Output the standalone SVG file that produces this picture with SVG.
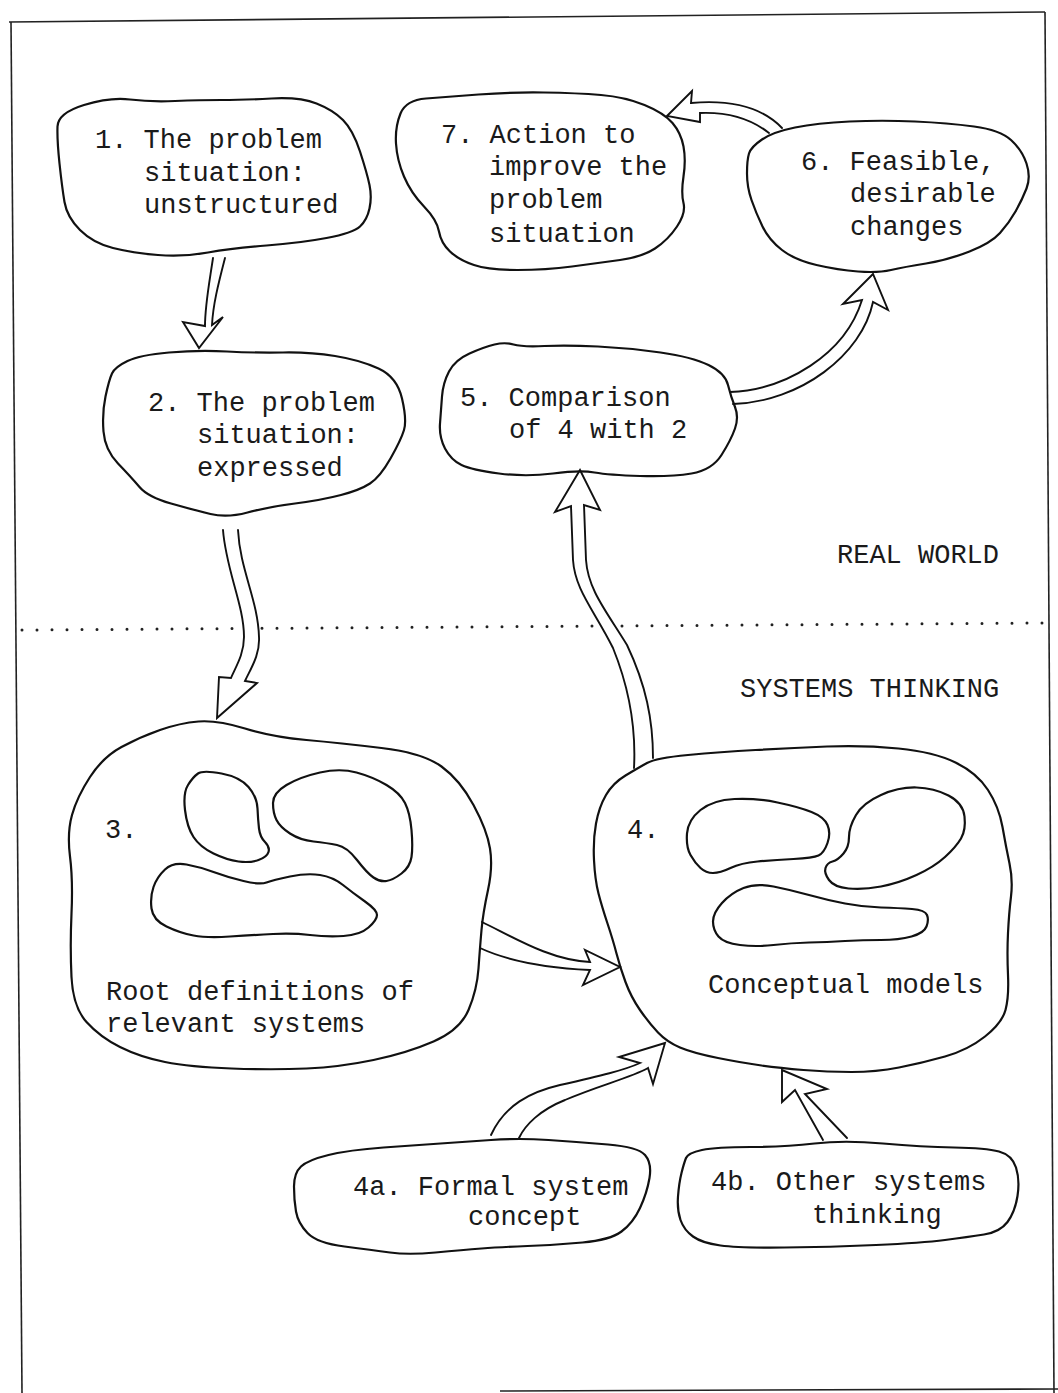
<svg xmlns="http://www.w3.org/2000/svg" width="1058" height="1393" viewBox="0 0 1058 1393">
<style>
.blob{fill:none;stroke:#111;stroke-width:2.2;stroke-linejoin:round;stroke-linecap:round}
.inner{fill:none;stroke:#111;stroke-width:2.2;stroke-linejoin:round}
.arrow{fill:#fff;stroke:#111;stroke-width:1.9;stroke-linejoin:miter;stroke-linecap:round}
.frame{fill:none;stroke:#222;stroke-width:1.6}
.dots{fill:none;stroke:#222;stroke-width:3;stroke-linecap:round;stroke-dasharray:0 15}
text{font-family:"Liberation Mono","Courier New",monospace;font-size:27px;fill:#1a1a1a}
</style>
<rect width="1058" height="1393" fill="#fff"/>
<g id="frame">
<path class="frame" d="M9,22 L1045,12"/>
<path class="frame" d="M11,22 L22,1393"/>
<path class="frame" d="M1045,12 L1054,1393"/>
<path class="frame" d="M500,1391 L1058,1389" stroke-width="2.4"/>
<path class="dots" d="M22,630 L1045,623"/>
</g>
<g id="labels">
<text x="837" y="563">REAL WORLD</text>
<text x="740" y="697">SYSTEMS THINKING</text>
</g>
<g id="connectors">
<path id="c1-2" class="arrow" d="M213,258 C209,285 205,305 205,326 L183,322 L199,348 L223,317 L212,325 C213,305 218,285 225,258"/>
<path id="c2-3" class="arrow" d="M223,530 C226,570 244,605 244,637 C244,655 235,668 231,678 L219,677 L217,718 L257,683 L245,681 C251,668 260,655 259,637 C258,600 240,570 238,530"/>
<path id="c3-4" class="arrow" d="M482,922 C515,938 550,960 590,962 L585,950 L620,967 L583,985 L590,970 C550,968 510,962 480,948"/>
<path id="c4-5" class="arrow" d="M634,768 C636,730 630,690 613,648 C594,610 575,590 573,560 L571,506 L555,512 L580,470 L600,510 L584,505 L586,560 C588,590 607,612 627,645 C646,685 653,720 653,758"/>
<path id="c5-6" class="arrow" d="M730,392 C785,390 845,355 862,300 L843,304 L873,274 L888,310 L873,302 C862,355 800,402 733,404"/>
<path id="c6-7" class="arrow" d="M782,128 C760,105 725,100 691,103 L692,91 L667,116 L700,122 L700,113 C725,112 750,118 769,133"/>
<path id="c4a-4" class="arrow" d="M491,1135 C505,1105 530,1092 560,1085 C600,1076 625,1070 640,1063 L619,1057 L665,1043 L653,1084 L648,1068 C630,1078 600,1085 565,1100 C540,1110 525,1125 519,1138"/>
<path id="c4b-4" class="arrow" d="M823,1140 L795,1090 L782,1102 L782,1070 L827,1089 L805,1094 L847,1138"/>
</g>
<g id="node1">
<path class="blob" d="M57.5,126.5 Q58,113 84,105 Q110,97 130,99.5 Q150,102 175,101 Q200,100 221.5,100 Q243,100 271.5,98.5 Q300,97 316.5,103.5 Q333,110 343,120 Q353,130 360,151.5 Q367,173 369.5,185 Q372,197 369.5,208.5 Q367,220 360,226.5 Q353,233 326.5,238 Q300,243 266.5,245.5 Q233,248 208,252.5 Q183,257 158,255 Q133,253 113,248 Q93,243 80,230 Q67,217 64.5,202 Q62,187 59.5,163.5 Q57,140 57.5,126.5 Z"/>
<text x="95" y="148">1. The problem</text>
<text x="144" y="181">situation:</text>
<text x="144" y="213">unstructured</text>
</g>
<g id="node7">
<path class="blob" d="M400.5,113.5 Q406,100 426,98.5 Q446,97 478.5,94.5 Q511,92 544,92.5 Q577,93 601,95 Q625,97 644.5,105 Q664,113 672.5,123 Q681,133 683.5,146.5 Q686,160 683.5,176.5 Q681,193 683.5,203 Q686,213 677,226.5 Q668,240 655,248.5 Q642,257 620,260 Q598,263 572,266.5 Q546,270 517.5,270 Q489,270 474,265 Q459,260 450,251.5 Q441,243 439,231.5 Q437,220 424,206.5 Q411,193 404,176.5 Q397,160 396,143.5 Q395,127 400.5,113.5 Z"/>
<text x="441" y="143">7. Action to</text>
<text x="489" y="175">improve the</text>
<text x="489" y="208">problem</text>
<text x="489" y="242">situation</text>
</g>
<g id="node6">
<path class="blob" d="M749,153.5 Q751,147 762,139.5 Q773,132 795,127.5 Q817,123 849.5,121.5 Q882,120 915,121.5 Q948,123 974,126.5 Q1000,130 1011,140 Q1022,150 1026.5,163.5 Q1031,177 1026.5,188.5 Q1022,200 1015.5,211.5 Q1009,223 1000,233 Q991,243 969.5,251.5 Q948,260 926,263.5 Q904,267 891,270 Q878,273 858,271.5 Q838,270 816.5,265 Q795,260 782,250 Q769,240 762.5,226.5 Q756,213 751.5,200 Q747,187 747,173.5 Q747,160 749,153.5 Z"/>
<text x="801" y="170">6. Feasible,</text>
<text x="850" y="202">desirable</text>
<text x="850" y="235">changes</text>
</g>
<g id="node2">
<path class="blob" d="M112,373.5 Q115,367 127.5,361 Q140,355 169,352.5 Q198,350 227,351.5 Q256,353 283,352.5 Q310,352 335,356 Q360,360 378.5,368.5 Q397,377 402,398.5 Q407,420 404,430 Q401,440 390.5,458.5 Q380,477 370,483.5 Q360,490 341,495 Q322,500 295,503.5 Q268,507 247.5,512.5 Q227,518 210.5,514 Q194,510 171,503.5 Q148,497 139.5,487 Q131,477 118,463.5 Q105,450 103.5,431.5 Q102,413 105.5,396.5 Q109,380 112,373.5 Z"/>
<text x="148" y="411">2. The problem</text>
<text x="197" y="443">situation:</text>
<text x="197" y="476">expressed</text>
</g>
<g id="node5">
<path class="blob" d="M442,396.5 Q443,383 449,371.5 Q455,360 469.5,353.5 Q484,347 494.5,344.5 Q505,342 513.5,344.5 Q522,347 544.5,346 Q567,345 598,346.5 Q629,348 660.5,352.5 Q692,357 708.5,365 Q725,373 728,385 Q731,397 735,407 Q739,417 735,428.5 Q731,440 721.5,455 Q712,470 691.5,473.5 Q671,477 640,476 Q609,475 594.5,472.5 Q580,470 553,473.5 Q526,477 499,473.5 Q472,470 461.5,465 Q451,460 445,448.5 Q439,437 440,423.5 Q441,410 442,396.5 Z"/>
<text x="460" y="406">5. Comparison</text>
<text x="509" y="438">of 4 with 2</text>
</g>
<g id="node3">
<path class="blob" d="M245,728.5 Q273,737 306.5,740 Q340,743 381.5,748 Q423,753 441.5,766.5 Q460,780 473.5,805 Q487,830 490,848.5 Q493,867 488,890 Q483,913 481.5,930 Q480,947 478.5,968.5 Q477,990 468.5,1010 Q460,1030 433.5,1041.5 Q407,1053 373.5,1060 Q340,1067 306.5,1068.5 Q273,1070 231.5,1068.5 Q190,1067 165,1062 Q140,1057 120,1047 Q100,1037 86.5,1022 Q73,1007 71.5,977 Q70,947 71.5,913.5 Q73,880 70,856.5 Q67,833 72,815 Q77,797 90,777 Q103,757 121.5,747 Q140,737 160,730 Q180,723 198.5,721.5 Q217,720 245,728.5 Z"/>
<path class="inner" d="M221.5,773.5 Q240,777 248.5,787 Q257,797 257.5,808.5 Q258,820 259,828.5 Q260,837 265,842 Q270,847 268.5,852 Q267,857 258.5,860 Q250,863 238.5,861.5 Q227,860 213.5,853.5 Q200,847 193.5,837 Q187,827 185,810 Q183,793 188,785 Q193,777 198,773.5 Q203,770 221.5,773.5 Z"/>
<path class="inner" d="M286.5,785 Q300,777 320,772.5 Q340,768 356.5,772.5 Q373,777 386.5,785 Q400,793 405,803 Q410,813 411.5,830 Q413,847 411.5,857 Q410,867 401.5,873.5 Q393,880 386.5,881 Q380,882 373.5,877.5 Q367,873 357,860 Q347,847 337,845 Q327,843 313.5,841.5 Q300,840 290,833.5 Q280,827 276.5,820 Q273,813 273,803 Q273,793 286.5,785 Z"/>
<path class="inner" d="M186.5,864.5 Q200,867 213.5,872 Q227,877 243.5,881 Q260,885 266.5,882.5 Q273,880 290,876.5 Q307,873 320,875 Q333,877 343,885 Q353,893 365,901.5 Q377,910 377,915 Q377,920 368.5,927.5 Q360,935 343.5,936 Q327,937 310,935 Q293,933 273,934 Q253,935 230,936.5 Q207,938 193.5,935.5 Q180,933 166.5,926.5 Q153,920 151.5,908.5 Q150,897 153.5,887 Q157,877 165,869.5 Q173,862 186.5,864.5 Z"/>
<text x="105" y="838">3.</text>
<text x="106" y="1000">Root definitions of</text>
<text x="106" y="1032">relevant systems</text>
</g>
<g id="node4">
<path class="blob" d="M688,755 Q720,752 755.5,750 Q791,748 827,746.5 Q863,745 898.5,748.5 Q934,752 955.5,762.5 Q977,773 988,790 Q999,807 1002.5,827 Q1006,847 1009.5,863.5 Q1013,880 1011,896.5 Q1009,913 1008,933 Q1007,953 1008,975 Q1009,997 1005.5,1010 Q1002,1023 985,1036.5 Q968,1050 945,1056.5 Q922,1063 899,1067.5 Q876,1072 851.5,1072 Q827,1072 803.5,1070 Q780,1068 761.5,1065.5 Q743,1063 718,1058 Q693,1053 680,1047.5 Q667,1042 658,1032.5 Q649,1023 640,1010 Q631,997 625.5,982 Q620,967 616.5,953.5 Q613,940 607.5,923.5 Q602,907 598.5,893.5 Q595,880 594,860 Q593,840 596,823.5 Q599,807 606,795 Q613,783 625.5,775.5 Q638,768 647,763 Q656,758 688,755 Z"/>
<path class="inner" d="M687,833.5 Q688,820 700.5,810 Q713,800 734.5,799 Q756,798 777.5,802.5 Q799,807 811.5,812 Q824,817 827.5,825 Q831,833 827.5,843 Q824,853 818.5,855.5 Q813,858 793.5,859 Q774,860 757.5,861.5 Q741,863 730.5,868 Q720,873 713,873 Q706,873 700.5,868 Q695,863 690.5,855 Q686,847 687,833.5 Z"/>
<path class="inner" d="M856,815 Q863,803 881,795 Q899,787 916.5,787.5 Q934,788 948.5,795.5 Q963,803 964.5,816.5 Q966,830 961,838.5 Q956,847 945,857 Q934,867 916.5,875 Q899,883 881,886.5 Q863,890 848.5,888.5 Q834,887 829,880 Q824,873 825.5,868 Q827,863 832.5,861.5 Q838,860 843.5,853.5 Q849,847 849,837 Q849,827 856,815 Z"/>
<path class="inner" d="M722,903 Q731,893 743.5,888 Q756,883 773.5,886.5 Q791,890 809,895 Q827,900 845,903.5 Q863,907 881,907.5 Q899,908 912,909 Q925,910 927,915 Q929,920 926.5,926.5 Q924,933 911.5,936.5 Q899,940 881,940 Q863,940 845,941 Q827,942 809,942.5 Q791,943 773.5,945 Q756,947 740,945 Q724,943 718.5,936.5 Q713,930 713,921.5 Q713,913 722,903 Z"/>
<text x="627" y="838">4.</text>
<text x="708" y="993">Conceptual models</text>
</g>
<g id="node4a">
<path class="blob" d="M294,1186.5 Q294,1173 301,1166.5 Q308,1160 328.5,1155 Q349,1150 383.5,1147.5 Q418,1145 440.5,1143.5 Q463,1142 491,1140 Q519,1138 548.5,1140 Q578,1142 608,1144.5 Q638,1147 645,1155 Q652,1163 649.5,1178 Q647,1193 640,1208 Q633,1223 621.5,1231.5 Q610,1240 582.5,1242.5 Q555,1245 527.5,1246 Q500,1247 481.5,1248.5 Q463,1250 435.5,1252.5 Q408,1255 390,1252.5 Q372,1250 344.5,1246.5 Q317,1243 307.5,1233 Q298,1223 296,1211.5 Q294,1200 294,1186.5 Z"/>
<text x="353" y="1195">4a. Formal system</text>
<text x="468" y="1225">concept</text>
</g>
<g id="node4b">
<path class="blob" d="M681.5,1173 Q684,1163 686,1158 Q688,1153 702,1150 Q716,1147 750.5,1147 Q785,1147 814.5,1143.5 Q844,1140 883,1143.5 Q922,1147 954,1147.5 Q986,1148 999,1151.5 Q1012,1155 1016,1167.5 Q1020,1180 1017.5,1196 Q1015,1212 1007.5,1222 Q1000,1232 984,1234.5 Q968,1237 945,1240 Q922,1243 876,1245 Q830,1247 784.5,1247.5 Q739,1248 720.5,1245.5 Q702,1243 693,1236.5 Q684,1230 680.5,1220 Q677,1210 678,1196.5 Q679,1183 681.5,1173 Z"/>
<text x="711" y="1190">4b. Other systems</text>
<text x="812" y="1223">thinking</text>
</g>
</svg>
